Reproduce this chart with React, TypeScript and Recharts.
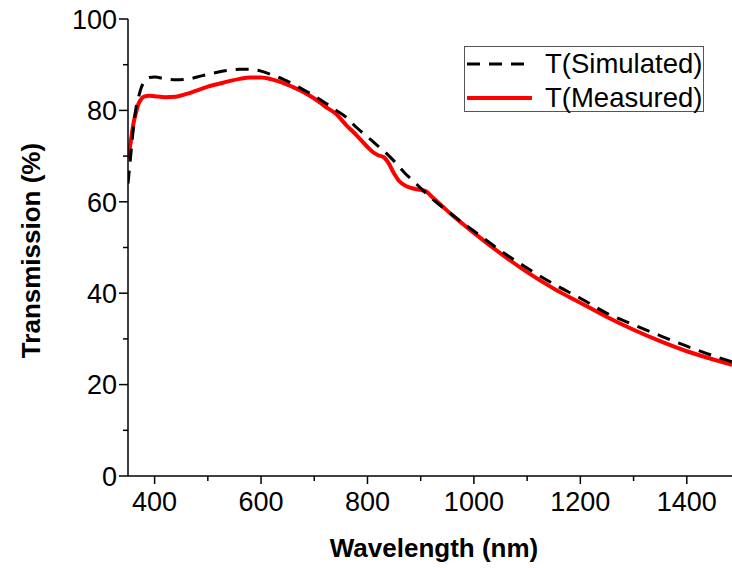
import React from 'react'
import { LineChart, Line, XAxis, YAxis, Legend, Label } from 'recharts'

// wavelength (nm) grid, both curves at these points
const wavelengths = [
  350, 355, 360, 365, 370, 375, 380, 390, 400, 420, 440, 460, 480, 500, 520, 540, 560, 580, 600, 620,
  640, 660, 680, 700, 720, 740, 760, 780, 800, 810, 820, 830, 840, 850, 860, 870, 880, 890, 900, 910,
  920, 940, 960, 980, 1000, 1050, 1100, 1150, 1200, 1250, 1300, 1350, 1400, 1450, 1485,
]

const simulated = [
  64, 70, 76, 80.5, 83, 85, 86.2, 87.2, 87.3, 86.9, 86.7, 86.8, 87.3, 87.9, 88.4, 88.8, 89, 89, 88.6, 87.8,
  86.9, 85.8, 84.5, 83.2, 81.7, 80.1, 78.5, 76.2, 74.2, 73.2, 72.2, 71.2, 70.1, 68.9, 67.6, 66.3, 65.2, 64.1, 63, 61.9,
  60.8, 58.9, 57.1, 55.3, 53.6, 49.3, 45.5, 42, 38.9, 35.6, 33.1, 30.7, 28.4, 26.3, 25,
]

const measured = [
  69.5, 73, 77, 79.5, 81.5, 82.5, 83, 83.2, 83.1, 82.9, 83, 83.6, 84.4, 85.2, 85.8, 86.4, 86.9, 87.2, 87.2, 86.8,
  86.1, 85.1, 84, 82.6, 80.9, 79.3, 76.8, 74.5, 72, 70.9, 70.2, 69.8, 68.4, 66.2, 64.5, 63.6, 63.1, 62.8, 62.6, 62.3,
  61.2, 59.1, 57, 55.1, 53.2, 48.7, 44.6, 41, 37.9, 34.8, 32, 29.5, 27.3, 25.5, 24.3,
]

const seriesNames = ['T(Simulated)', 'T(Measured)']
const xTicks = [400, 500, 600, 700, 800, 900, 1000, 1100, 1200, 1300, 1400]
const yTicks = [0, 10, 20, 30, 40, 50, 60, 70, 80, 90, 100]

const data = wavelengths.map((w, i) => ({ w, sim: simulated[i], meas: measured[i] }))

const font = '"Liberation Sans", Arial, sans-serif'

const XTick = (props: any) => {
  const { x, y, payload } = props
  const major = payload.value % 200 === 0
  return (
    <g>
      <line x1={x} x2={x} y1={y} y2={y + (major ? 8 : 5)} stroke="#000" strokeWidth={1.5} />
      {major && (
        <text x={x} y={y + 35} textAnchor="middle" fontSize={27} fontFamily={font} fill="#000">
          {payload.value}
        </text>
      )}
    </g>
  )
}

const TopTick = (props: any) => {
  const { x, y } = props
  return <line x1={x} x2={x} y1={y} y2={y + 4} stroke="#000" strokeWidth={1.5} />
}

const YTick = (props: any) => {
  const { x, y, payload } = props
  const major = payload.value % 20 === 0
  return (
    <g>
      <line x1={x - (major ? 9 : 5)} x2={x} y1={y} y2={y} stroke="#000" strokeWidth={1.5} />
      {major && (
        <text x={x - 11} y={y} dy="0.36em" textAnchor="end" fontSize={27} fontFamily={font} fill="#000">
          {payload.value}
        </text>
      )}
    </g>
  )
}

const LegendBox = (props: any) => {
  const items = [...(props.payload || [])].sort(
    (a: any, b: any) => seriesNames.indexOf(a.value) - seriesNames.indexOf(b.value)
  )
  return (
    <div style={{ width: 240, height: 66, border: '1px solid #555', boxSizing: 'border-box', position: 'relative', background: '#fff' }}>
      {items.map((it: any, i: number) => (
        <div key={it.value} style={{ position: 'absolute', left: 0, top: i * 34, height: 34, width: 240 }}>
          <svg width={70} height={34} style={{ position: 'absolute', left: 0, top: 0 }}>
            <line
              x1={2}
              x2={67}
              y1={17}
              y2={17}
              stroke={it.color}
              strokeWidth={it.value === 'T(Measured)' ? 4 : 3}
              strokeDasharray={it.value === 'T(Simulated)' ? '13 9' : undefined}
            />
          </svg>
          <span
            style={{ position: 'absolute', left: 80, top: 0, lineHeight: '34px', fontSize: 27.5, fontFamily: font, color: '#000', whiteSpace: 'nowrap' }}
          >
            {it.value}
          </span>
        </div>
      ))}
    </div>
  )
}

const App = () => {
  return (
    <div style={{ position: 'absolute', left: 0, top: 0, width: 732, height: 568, overflow: 'hidden', background: '#fff' }}>
      <LineChart width={742} height={568} data={data} margin={{ top: 19, right: 2, bottom: 0, left: 0 }}>
        <XAxis
          xAxisId="b"
          dataKey="w"
          type="number"
          domain={[350, 1500]}
          allowDataOverflow
          ticks={xTicks}
          interval={0}
          height={92}
          tickSize={0}
          tickMargin={0}
          tickLine={false}
          tick={<XTick />}
          axisLine={{ stroke: '#000', strokeWidth: 1.5 }}
        >
          <Label
            content={(p: any) => (
              <text
                x={p.viewBox.x + p.viewBox.width / 2}
                y={557}
                textAnchor="middle"
                fontSize={26}
                fontWeight="bold"
                fontFamily={font}
                fill="#000"
              >
                Wavelength (nm)
              </text>
            )}
          />
        </XAxis>
        <XAxis
          xAxisId="t"
          orientation="top"
          dataKey="w"
          type="number"
          domain={[350, 1500]}
          allowDataOverflow
          ticks={xTicks}
          interval={0}
          height={0}
          tickSize={0}
          tickMargin={0}
          tickLine={false}
          tick={<TopTick />}
          axisLine={{ stroke: '#000', strokeWidth: 1.5 }}
        />
        <YAxis
          type="number"
          domain={[0, 100]}
          ticks={yTicks}
          interval={0}
          width={128}
          tickSize={0}
          tickMargin={0}
          tickLine={false}
          tick={<YTick />}
          axisLine={{ stroke: '#000', strokeWidth: 1.5 }}
        >
          <Label
            content={(p: any) => {
              const cy = p.viewBox.y + p.viewBox.height / 2 + 3
              return (
                <text
                  x={31}
                  y={cy}
                  dy="0.36em"
                  transform={`rotate(-90 31 ${cy})`}
                  textAnchor="middle"
                  fontSize={26}
                  fontWeight="bold"
                  fontFamily={font}
                  fill="#000"
                >
                  Transmission (%)
                </text>
              )
            }}
          />
        </YAxis>
        <Legend
          layout="vertical"
          align="center"
          verticalAlign="middle"
          content={<LegendBox />}
          wrapperStyle={{ left: 464, top: 46, width: 240, height: 66 }}
        />
        <Line
          xAxisId="b"
          name={seriesNames[1]}
          dataKey="meas"
          type="monotone"
          stroke="#ff0000"
          strokeWidth={4}
          dot={false}
          isAnimationActive={false}
        />
        <Line
          xAxisId="b"
          name={seriesNames[0]}
          dataKey="sim"
          type="monotone"
          stroke="#000"
          strokeWidth={3}
          strokeDasharray="13 9"
          dot={false}
          isAnimationActive={false}
        />
      </LineChart>
    </div>
  )
}

export default App
